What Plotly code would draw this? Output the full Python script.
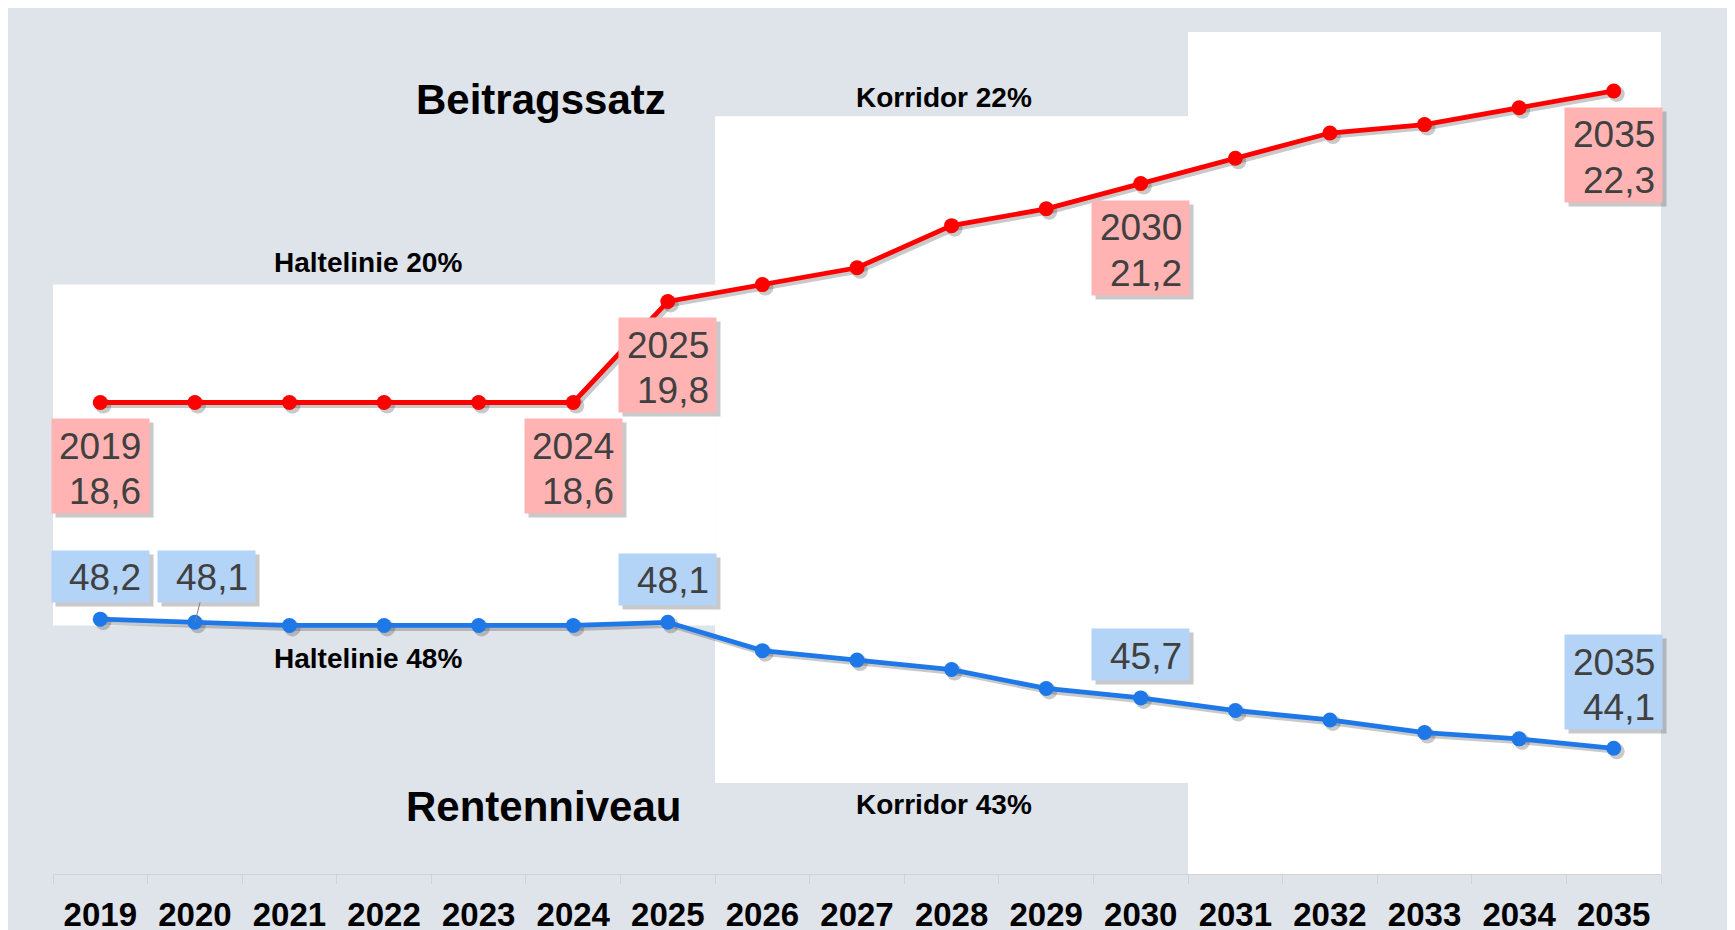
import plotly.graph_objects as go

# ---------------- data ----------------
years = ["2019", "2020", "2021", "2022", "2023", "2024", "2025", "2026", "2027",
         "2028", "2029", "2030", "2031", "2032", "2033", "2034", "2035"]
beitragssatz = [18.6, 18.6, 18.6, 18.6, 18.6, 18.6, 19.8, 20.0, 20.2,
                20.7, 20.9, 21.2, 21.5, 21.8, 21.9, 22.1, 22.3]
rentenniveau = [48.2, 48.1, 48.0, 48.0, 48.0, 48.0, 48.1, 47.2, 46.9,
                46.6, 46.0, 45.7, 45.3, 45.0, 44.6, 44.4, 44.1]

red_label_years = ["2019", "2024", "2025", "2030", "2035"]
blue_label_years = ["2019", "2020", "2025", "2030", "2035"]
blue_label_with_year = ["2035"]

haltelinie_beitrag = 20
haltelinie_rente = 48
korridor_beitrag = 22
korridor_rente = 43

# ---------------- styling / geometry ----------------
W, H = 1735, 930
ML, MR, MT, MB = 45, 82, 24, 64
PW, PH = W - ML - MR, H - MT - MB
RED_RANGE = [13, 23]
BLUE_RANGE = [40.11, 66.84]
BG = "#dfe3ea"
RED = "#ff0000"
BLUE = "#1f78e8"
RED_BOX = "#ffb3b3"
BLUE_BOX = "#b3d3f7"
LABEL_COLOR = "#404040"
FONT = "Arial, 'Liberation Sans', sans-serif"
SH = 3  # shadow offset in px (lines/markers)
SHADOW = "rgba(60,60,60,0.28)"
LAB_SIZE = 37
BOX_W = 97

n = len(years)
dx = SH * n / PW
dy_red = SH * (RED_RANGE[1] - RED_RANGE[0]) / PH
dy_blue = SH * (BLUE_RANGE[1] - BLUE_RANGE[0]) / PH


def red_paper(v):
    return (v - RED_RANGE[0]) / (RED_RANGE[1] - RED_RANGE[0])


def blue_paper(v):
    return (v - BLUE_RANGE[0]) / (BLUE_RANGE[1] - BLUE_RANGE[0])


def fmt(v):
    return f"{v:.1f}".replace(".", ",")


fig = go.Figure()

# shadow traces (on shifted axes, drawn first)
fig.add_trace(go.Scatter(x=years, y=beitragssatz, xaxis="x", yaxis="y", mode="lines+markers",
                         line=dict(color=SHADOW, width=5), marker=dict(size=16, color=SHADOW),
                         hoverinfo="skip", showlegend=False))
fig.add_trace(go.Scatter(x=years, y=rentenniveau, xaxis="x", yaxis="y2", mode="lines+markers",
                         line=dict(color=SHADOW, width=5), marker=dict(size=16, color=SHADOW),
                         hoverinfo="skip", showlegend=False))
# main traces
fig.add_trace(go.Scatter(x=years, y=beitragssatz, xaxis="x2", yaxis="y3", mode="lines+markers",
                         name="Beitragssatz", line=dict(color=RED, width=4.8),
                         marker=dict(size=15, color=RED), showlegend=False))
fig.add_trace(go.Scatter(x=years, y=rentenniveau, xaxis="x2", yaxis="y4", mode="lines+markers",
                         name="Rentenniveau", line=dict(color=BLUE, width=4.8),
                         marker=dict(size=15, color=BLUE), showlegend=False))

# ---------------- shapes ----------------
shapes = []
i19, i25, i30, i35 = years.index("2019"), years.index("2025"), years.index("2030"), years.index("2035")
shapes.append(dict(type="rect", xref="x2", yref="paper", x0=i19 - 0.5, x1=i25 + 0.5,
                   y0=blue_paper(haltelinie_rente), y1=red_paper(haltelinie_beitrag),
                   fillcolor="white", line=dict(width=0), layer="below"))
shapes.append(dict(type="rect", xref="x2", yref="paper", x0=i25 + 0.5, x1=i30 + 0.5,
                   y0=blue_paper(korridor_rente), y1=red_paper(korridor_beitrag),
                   fillcolor="white", line=dict(width=0), layer="below"))
shapes.append(dict(type="rect", xref="x2", yref="paper", x0=i30 + 0.5, x1=i35 + 0.5,
                   y0=0, y1=1, fillcolor="white", line=dict(width=0), layer="below"))

# ---------------- annotations ----------------
ann = []
lab_font = dict(family=FONT, size=LAB_SIZE, color=LABEL_COLOR)


def add_label(idx, y, yref, lines, bg, bx, by, arrow=False):
    """bx, by: offset (px) of box centre from the data point (by > 0 = above)."""
    h = 51 if len(lines) == 1 else 94
    box = dict(x=idx, y=y, xref="x2", yref=yref, text=" ", width=BOX_W - 4, height=h - 4,
               borderpad=2, xanchor="center", yanchor="middle")
    if arrow:
        shadow = dict(box, showarrow=True, ax=bx, ay=-by, arrowhead=0, arrowwidth=1,
                      standoff=0, arrowcolor="rgba(0,0,0,0)", xshift=4, yshift=-4, bgcolor=SHADOW)
        main = dict(box, showarrow=True, ax=bx, ay=-by, arrowhead=0, arrowwidth=1,
                    standoff=0, arrowcolor="#7f7f7f", bgcolor=bg)
    else:
        shadow = dict(box, showarrow=False, xshift=bx + 4, yshift=by - 4, bgcolor=SHADOW)
        main = dict(box, showarrow=False, xshift=bx, yshift=by, bgcolor=bg)
    ann.append(shadow)
    ann.append(main)
    offsets = [1.5] if len(lines) == 1 else [-20, 25.5]  # cap centre below box centre
    for txt, off in zip(lines, offsets):
        ann.append(dict(x=idx, y=y, xref="x2", yref=yref, text=txt, showarrow=False,
                        xanchor="right", yanchor="middle", xshift=bx + BOX_W / 2 - 5.5,
                        yshift=by - off, font=lab_font))


for yr in red_label_years:
    i = years.index(yr)
    v = beitragssatz[i]
    add_label(i, v, "y3", [yr, fmt(v)], RED_BOX, 0, -64)

for yr in blue_label_years:
    i = years.index(yr)
    v = rentenniveau[i]
    if yr in blue_label_with_year:
        add_label(i, v, "y4", [yr, fmt(v)], BLUE_BOX, 0, 66)
    elif yr == "2020":
        add_label(i, v, "y4", [fmt(v)], BLUE_BOX, 12, 46, arrow=True)
    else:
        add_label(i, v, "y4", [fmt(v)], BLUE_BOX, 0, 43)

title_font = dict(family=FONT, size=42, color="black", weight="bold")
small_font = dict(family=FONT, size=28, color="black", weight="bold")
texts = [
    ("Beitragssatz", 4.66, 0.9204, title_font),
    ("Rentenniveau", 4.69, 0.080, title_font),
    (f"Haltelinie {haltelinie_beitrag}%", 2.83, 0.7257, small_font),
    (f"Haltelinie {haltelinie_rente}%", 2.83, 0.2565, small_font),
    (f"Korridor {korridor_beitrag}%", 8.92, 0.9222, small_font),
    (f"Korridor {korridor_rente}%", 8.92, 0.0831, small_font),
]
for t, x, y, f in texts:
    ann.append(dict(text=t, x=x, y=y, xref="x2", yref="paper", showarrow=False,
                    xanchor="center", yanchor="middle", font=f))

# ---------------- layout ----------------
hidden_y = dict(visible=False, showgrid=False, zeroline=False, fixedrange=True)
fig.update_layout(
    width=W, height=H,
    margin=dict(l=ML, r=MR, t=MT, b=MB, pad=0, autoexpand=False),
    paper_bgcolor=BG, plot_bgcolor="rgba(0,0,0,0)",
    font=dict(family=FONT),
    showlegend=False,
    xaxis=dict(type="category", range=[-0.5 - dx, n - 0.5 - dx], visible=False,
               categoryorder="array", categoryarray=years, automargin=False),
    xaxis2=dict(type="category", overlaying="x", anchor="y3", side="bottom",
                range=[-0.5, n - 0.5], categoryorder="array", categoryarray=years,
                showgrid=False, zeroline=False, showline=True, linecolor="#d2d2d2", linewidth=1,
                ticks="outside", tickson="boundaries", ticklen=9, tickcolor="#d2d2d2",
                tickwidth=1, ticklabelstandoff=11, automargin=False,
                tickfont=dict(family=FONT, size=33, color="black", weight="bold")),
    yaxis=dict(range=[RED_RANGE[0] + dy_red, RED_RANGE[1] + dy_red], **hidden_y),
    yaxis2=dict(range=[BLUE_RANGE[0] + dy_blue, BLUE_RANGE[1] + dy_blue], overlaying="y", **hidden_y),
    yaxis3=dict(range=RED_RANGE, overlaying="y", **hidden_y),
    yaxis4=dict(range=BLUE_RANGE, overlaying="y", **hidden_y),
    shapes=shapes,
    annotations=ann,
)

fig.write_html("out.html")
